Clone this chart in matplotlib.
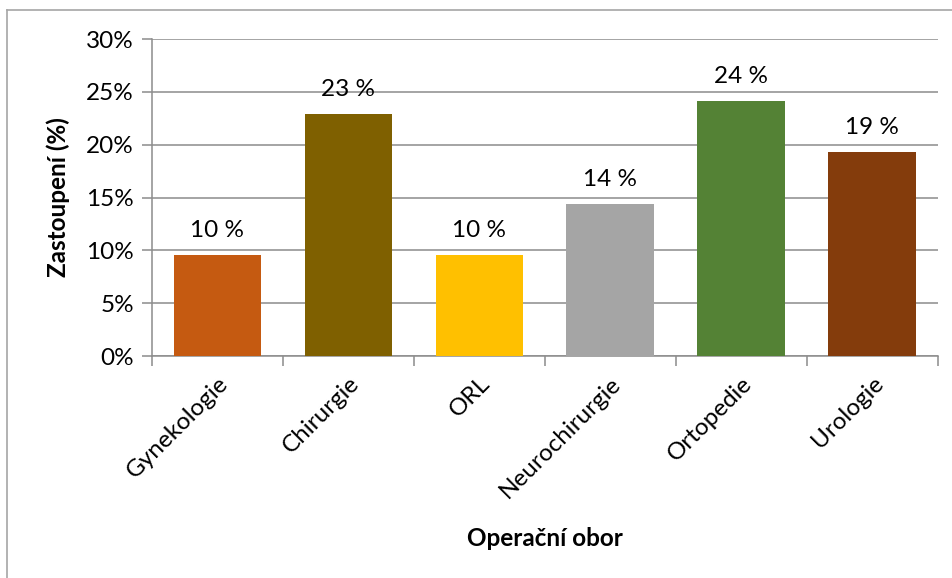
import matplotlib.pyplot as plt
from matplotlib.lines import Line2D

plt.rcParams['font.family'] = ['Lato', 'DejaVu Sans']

# data
obory = ['Gynekologie', 'Chirurgie', 'ORL', 'Neurochirurgie', 'Ortopedie', 'Urologie']
zastoupeni = [9.6, 22.9, 9.6, 14.4, 24.1, 19.3]
popisky = ['10 %', '23 %', '10 %', '14 %', '24 %', '19 %']
barvy = ['#C55A11', '#7F6000', '#FFC000', '#A5A5A5', '#548235', '#843C0C']
y_ticks = [0, 5, 10, 15, 20, 25, 30]

fs = 17.5

fig = plt.figure(figsize=(9.53, 5.78), dpi=100)
ax = fig.add_axes([0.1595, 0.384, 0.8245, 0.5485])

x = list(range(len(obory)))
bars = ax.bar(x, zastoupeni, width=0.67, color=barvy, zorder=3)

for b, txt in zip(bars, popisky):
    ax.annotate(txt, (b.get_x() + b.get_width() / 2, b.get_height()),
                xytext=(0, 10), textcoords='offset points',
                ha='center', va='bottom', fontsize=fs)

ax.set_xlim(-0.5, len(obory) - 0.5)
ax.set_ylim(0, 30)
ax.set_yticks(y_ticks)
ax.set_yticklabels([f'{t}%' for t in y_ticks], fontsize=fs)
ax.yaxis.grid(True, color='#8C8C8C', linewidth=1.1, zorder=0)

ax.set_xticks(x)
ax.set_xticklabels(obory, rotation=45, ha='right', rotation_mode='anchor', fontsize=fs)
ax.tick_params(axis='x', length=0, pad=12)
# tick marks between categories
ax.set_xticks([i - 0.5 for i in range(len(obory) + 1)], minor=True)
ax.tick_params(axis='x', which='minor', length=7, color='#8C8C8C', width=1.1)
ax.tick_params(axis='y', length=7, color='#8C8C8C', width=1.1, pad=6)

for s in ['top', 'right']:
    ax.spines[s].set_visible(False)
for s in ['left', 'bottom']:
    ax.spines[s].set_color('#8C8C8C')
    ax.spines[s].set_linewidth(1.1)

ax.set_ylabel('Zastoupení (%)', fontsize=fs, fontweight='bold')
ax.set_xlabel('Operační obor', fontsize=fs, fontweight='bold')
ax.xaxis.set_label_coords(0.5, -0.54)
ax.yaxis.set_label_coords(-0.104, 0.5)

# outer chart border
fig.add_artist(Line2D([7 / 953, 1.0], [1 - 10 / 578, 1 - 10 / 578], color='#A6A6A6', lw=1.2))
fig.add_artist(Line2D([7 / 953, 7 / 953], [0, 1 - 10 / 578], color='#A6A6A6', lw=1.2))

fig.savefig('out.png', dpi=100)
